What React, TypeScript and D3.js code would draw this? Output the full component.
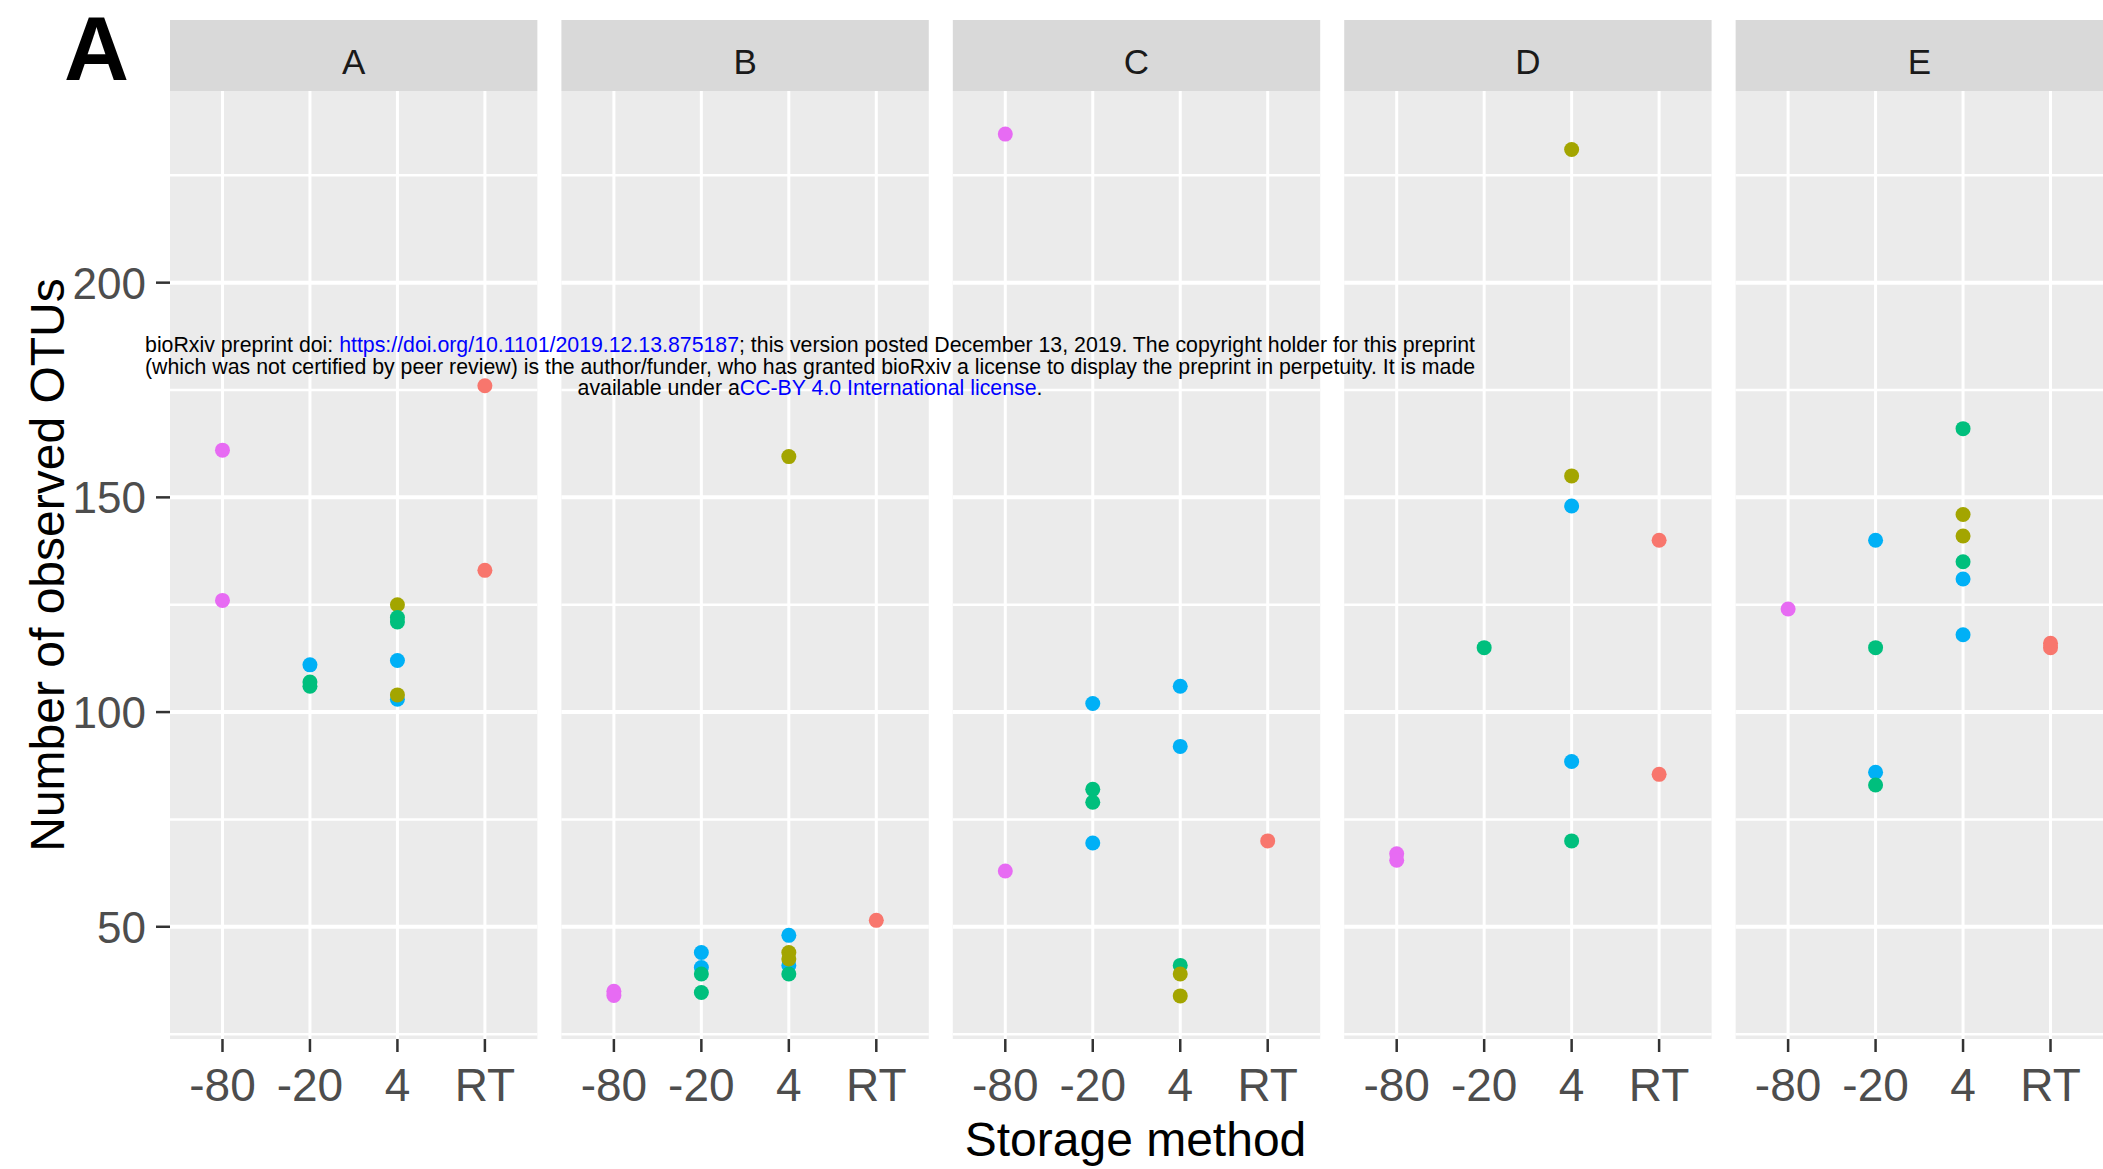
import React from "react";
import * as d3 from "d3";

// facets, x categories and y ticks
const facets = ["A", "B", "C", "D", "E"];
const storage = ["-80", "-20", "4", "RT"];
const yTicks = [50, 100, 150, 200];
const yMinor = [25, 75, 125, 175, 225];

// ggplot default hue palette, one colour per sample group
const groupColors = ["#F8766D", "#A3A500", "#00BF7D", "#00B0F6", "#E76BF3"];

// [storage method, observed OTUs, group (1-5)]
const panelA = [
  ["-80", 161, 5], ["-80", 126, 5],
  ["-20", 111, 4], ["-20", 107, 3], ["-20", 106, 3],
  ["4", 125, 2], ["4", 122, 3], ["4", 121, 3], ["4", 112, 4], ["4", 103, 4], ["4", 104, 2],
  ["RT", 176, 1], ["RT", 133, 1],
];
const panelB = [
  ["-80", 35, 5], ["-80", 34, 5],
  ["-20", 44, 4], ["-20", 40.5, 4], ["-20", 39, 3], ["-20", 34.7, 3],
  ["4", 48, 4], ["4", 41, 4], ["4", 39, 3], ["4", 44, 2], ["4", 42.5, 2], ["4", 159.5, 2],
  ["RT", 51.5, 1],
];
const panelC = [
  ["-80", 234.6, 5], ["-80", 63, 5],
  ["-20", 102, 4], ["-20", 82, 3], ["-20", 79, 3], ["-20", 69.5, 4],
  ["4", 106, 4], ["4", 92, 4], ["4", 41, 3], ["4", 39, 2], ["4", 33.9, 2],
  ["RT", 70, 1],
];
const panelD = [
  ["-80", 67, 5], ["-80", 65.5, 5],
  ["-20", 115, 3],
  ["4", 231, 2], ["4", 155, 2], ["4", 148, 4], ["4", 88.5, 4], ["4", 70, 3],
  ["RT", 140, 1], ["RT", 85.5, 1],
];
const panelE = [
  ["-80", 124, 5],
  ["-20", 140, 4], ["-20", 115, 3], ["-20", 86, 4], ["-20", 83, 3],
  ["4", 166, 3], ["4", 146, 2], ["4", 141, 2], ["4", 135, 3], ["4", 131, 4], ["4", 118, 4],
  ["RT", 116, 1], ["RT", 115, 1],
];
const panels = [panelA, panelB, panelC, panelD, panelE];

const width = 2103;
const height = 1169;
const font = "'Liberation Sans', Arial, sans-serif";

const App = () => {
  const stripTop = 20;
  const stripH = 71;
  const panelTop = stripTop + stripH;
  const panelBottom = 1039;

  const fx = d3.scaleBand().domain(facets).range([170, 2103]).paddingInner(0.0614);
  const pw = fx.bandwidth();
  const x = d3.scalePoint().domain(storage).range([0, pw]).padding(0.6);

  // continuous scale with ggplot's 5% expansion
  const all = panels.flat().map((d) => d[1]);
  const [lo, hi] = d3.extent(all);
  const pad = (hi - lo) * 0.05;
  const y = d3.scaleLinear().domain([lo - pad, hi + pad]).range([panelBottom, panelTop]);

  const gray = "#4D4D4D";

  return (
    <svg
      width={width}
      height={height}
      style={{ position: "absolute", left: 0, top: 0, background: "#fff" }}
      fontFamily={font}
    >
      <rect width={width} height={height} fill="#fff" />

      {facets.map((f, i) => {
        const x0 = fx(f);
        return (
          <g key={f} transform={`translate(${x0},0)`}>
            <rect x={0} y={stripTop} width={pw} height={stripH} fill="#D9D9D9" />
            <text x={pw / 2} y={stripTop + 54} textAnchor="middle" fontSize={35} fill="#1A1A1A">
              {f}
            </text>
            <rect x={0} y={panelTop} width={pw} height={panelBottom - panelTop} fill="#EBEBEB" />
            {yMinor.map((t) => (
              <line key={"m" + t} x1={0} x2={pw} y1={y(t)} y2={y(t)} stroke="#fff" strokeWidth={2.5} />
            ))}
            {yTicks.map((t) => (
              <line key={"M" + t} x1={0} x2={pw} y1={y(t)} y2={y(t)} stroke="#fff" strokeWidth={4} />
            ))}
            {storage.map((s) => (
              <line key={"v" + s} x1={x(s)} x2={x(s)} y1={panelTop} y2={panelBottom} stroke="#fff" strokeWidth={3} />
            ))}
            {panels[i].map((d, j) => (
              <circle key={j} cx={x(d[0])} cy={y(d[1])} r={7.5} fill={groupColors[d[2] - 1]} />
            ))}
            {storage.map((s) => (
              <g key={"t" + s}>
                <line x1={x(s)} x2={x(s)} y1={panelBottom} y2={panelBottom + 13} stroke="#333" strokeWidth={2.5} />
                <text x={x(s)} y={1101} textAnchor="middle" fontSize={46} fill={gray}>
                  {s}
                </text>
              </g>
            ))}
          </g>
        );
      })}

      {/* y axis on first panel */}
      {yTicks.map((t) => (
        <g key={t}>
          <line x1={156} x2={170} y1={y(t)} y2={y(t)} stroke="#333" strokeWidth={2.5} />
          <text x={146} y={y(t) + 16} textAnchor="end" fontSize={44} fill={gray}>
            {t}
          </text>
        </g>
      ))}

      <text
        transform={`translate(64,${(panelTop + panelBottom) / 2}) rotate(-90)`}
        textAnchor="middle"
        fontSize={48}
        fill="#000"
      >
        Number of observed OTUs
      </text>
      <text x={(170 + 2101) / 2} y={1156} textAnchor="middle" fontSize={48} fill="#000">
        Storage method
      </text>

      <text x={64} y={80} fontSize={90} fontWeight="bold" fill="#000">
        A
      </text>

      {/* preprint watermark */}
      <g fontSize={21.3} fill="#000" textAnchor="middle">
        <text x={810} y={352}>
          bioRxiv preprint doi: <tspan fill="#0000FF">https://doi.org/10.1101/2019.12.13.875187</tspan>; this
          version posted December 13, 2019. The copyright holder for this preprint
        </text>
        <text x={810} y={373.5}>
          (which was not certified by peer review) is the author/funder, who has granted bioRxiv a license to display
          the preprint in perpetuity. It is made
        </text>
        <text x={810} y={395}>
          available under a<tspan fill="#0000FF">CC-BY 4.0 International license</tspan>.
        </text>
      </g>
    </svg>
  );
};

export default App;
